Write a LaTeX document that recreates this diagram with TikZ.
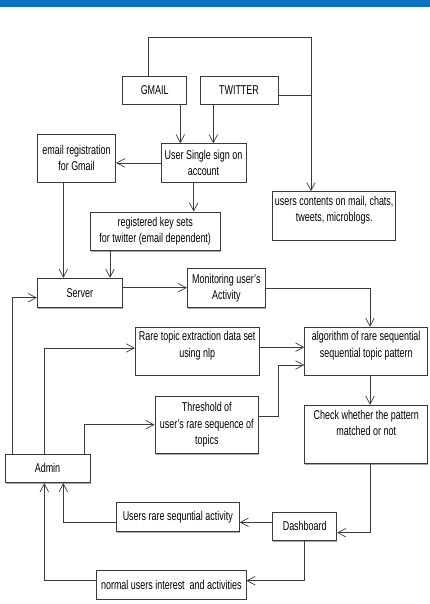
\documentclass[tikz,border=0pt]{standalone}
\usepackage{fontspec}
\setmainfont[FakeStretch=0.7]{Liberation Sans}
\usetikzlibrary{arrows.meta,shadows}
\definecolor{barblue}{HTML}{0B70C2}
\definecolor{ln}{HTML}{3A3A3A}
\begin{document}
\begin{tikzpicture}[x=1pt,y=-1pt,
  box/.style={draw=ln,line width=0.9pt,fill=white,align=center,inner sep=1pt,
    font=\fontsize{12.8}{16.5}\selectfont,
    drop shadow={shadow xshift=0.6pt,shadow yshift=-1.4pt,fill=black!35,opacity=1}},
  conn/.style={draw=ln,line width=0.8pt},
  arr/.style={conn,-{Straight Barb[length=8pt,width=8.5pt,line width=0.7pt]}}]
\useasboundingbox (0,0) rectangle (430,604);
\fill[white] (0,0) rectangle (430,604);
\fill[barblue] (0,0) rectangle (430,7.3);

\node[box,minimum width=64pt,minimum height=28pt] (gmail) at (154.7,90) {GMAIL};
\node[box,minimum width=78pt,minimum height=28pt] (tw) at (239,90) {TWITTER};
\node[box,minimum width=85pt,minimum height=38.3pt] (sso) at (203.5,162.9) {User Single sign on\\account};
\node[box,minimum width=78.4pt,minimum height=48pt] (email) at (76.5,158) {email registration\\for Gmail};
\node[box,minimum width=123pt,minimum height=48.3pt] (uc) at (334.2,215.8) {users contents on mail, chats,\\tweets, microblogs.\\[-3pt]};
\node[box,minimum width=129.7pt,minimum height=38.7pt] (reg) at (155.2,231.3) {registered key sets\\for twitter (email dependent)};
\node[box,minimum width=85pt,minimum height=29pt] (server) at (79.8,292.8) {Server};
\node[box,minimum width=78pt,minimum height=38.6pt] (mon) at (226.3,288) {Monitoring user's\\Activity};
\node[box,minimum width=123pt,minimum height=47.7pt] (alg) at (366.2,351.2) {algorithm of rare sequential\\sequential topic pattern\\[-3pt]};
\node[box,minimum width=123.7pt,minimum height=47.7pt] (rare) at (197.2,351.2) {Rare topic extraction data set\\using nlp\\[-3pt]};
\node[box,minimum width=103.7pt,minimum height=57.3pt] (thr) at (206.8,424.7) {Threshold of\\user's rare sequence of\\topics};
\node[box,minimum width=123pt,minimum height=58pt] (check) at (366.2,434.3) {Check whether the pattern\\matched or not\\[6pt]};
\node[box,minimum width=85pt,minimum height=28.7pt] (admin) at (47.5,468.3) {Admin};
\node[box,minimum width=64pt,minimum height=28.7pt] (dash) at (304.7,526.3) {Dashboard};
\node[box,minimum width=123pt,minimum height=28.6pt] (urare) at (177.8,517) {Users rare sequntial activity};
\node[box,minimum width=149.3pt,minimum height=28.3pt] (normal) at (171.3,584.8) {normal users interest\ \ and activities};

\coordinate (loopR) at (311,37.3);
\draw[arr] ([xshift=-6.4pt]gmail.north) |- (loopR) -- (loopR |- uc.north);
\draw[conn] ([yshift=-5.7pt]tw.east) -- ([yshift=-5.7pt]tw.east -| loopR);
\draw[arr] ([xshift=25.6pt]gmail.south) coordinate (a1) -- (a1 |- sso.north);
\draw[arr] ([xshift=-25.7pt]tw.south) coordinate (a2) -- (a2 |- sso.north);
\draw[arr] (sso.west) -- (sso.west -| email.east);
\draw[arr] ([xshift=-9.8pt]sso.south) coordinate (a3) -- (a3 |- reg.north);
\draw[arr] ([xshift=-13.2pt]email.south) coordinate (a4) -- (a4 |- server.north);
\draw[arr] ([xshift=-45.2pt]reg.south) coordinate (a5) -- (a5 |- server.north);
\draw[arr] ([yshift=5.1pt]server.east) coordinate (a6) -- (a6 -| mon.west);
\draw[arr] (mon.east) -| ([xshift=3.8pt]alg.north);
\draw[arr] ([xshift=-35.5pt]admin.north) |- ([yshift=-4.9pt]server.west);
\draw[arr] ([xshift=-3.2pt]admin.north) |- ([yshift=3.2pt]rare.west);
\draw[arr] ([xshift=36.5pt]admin.north) |- (thr.west);
\draw[arr] ([yshift=4pt]rare.east) coordinate (a7) -- (a7 -| alg.west);
\draw[arr] ([yshift=8.7pt]thr.east) -- ++(19.6,0) |- ([yshift=-13.8pt]alg.west);
\draw[arr] ([xshift=3.8pt]alg.south) coordinate (a8) -- (a8 |- check.north);
\draw[arr] ([xshift=3.8pt]check.south) |- ([yshift=-6.4pt]dash.east);
\draw[arr] ([yshift=4pt]dash.west) coordinate (a9) -- (a9 -| urare.east);
\draw[arr] ([yshift=-5.3pt]urare.west) -| ([xshift=15.8pt]admin.south);
\draw[arr] (dash.south) |- ([yshift=4.1pt]normal.east);
\draw[arr] ([yshift=4.1pt]normal.west) -| ([xshift=-3.2pt]admin.south);
\end{tikzpicture}
\end{document}
